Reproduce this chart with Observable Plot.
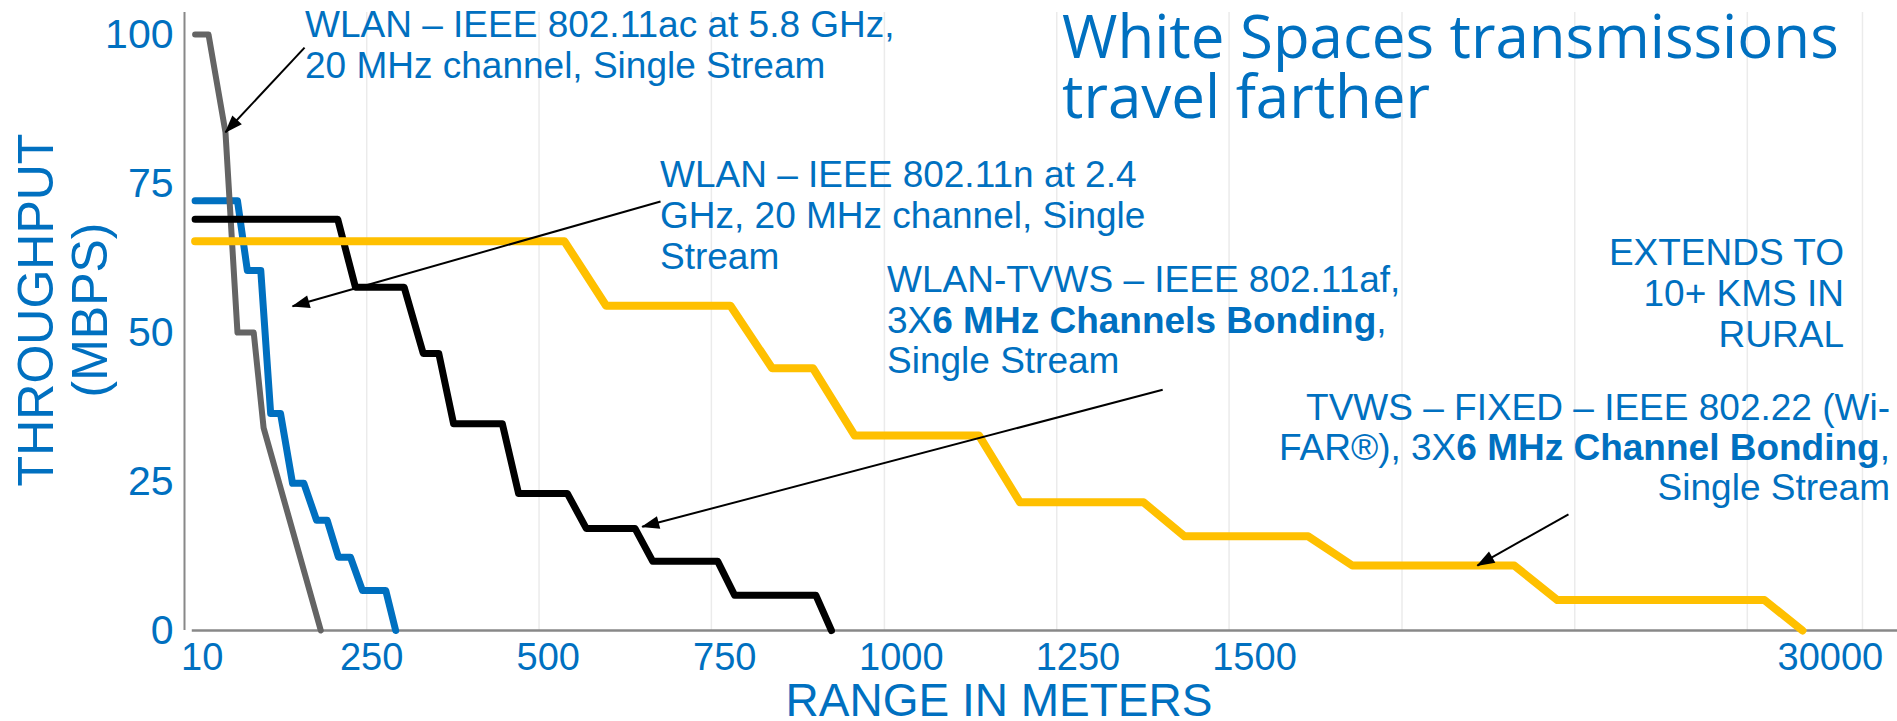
<!DOCTYPE html>
<html><head><meta charset="utf-8">
<script src="https://cdn.jsdelivr.net/npm/d3@7"></script>
<script src="https://cdn.jsdelivr.net/npm/@observablehq/plot@0.6"></script>
<style>
html,body{margin:0;padding:0;background:#fff;}
#chart{width:1897px;height:721px;overflow:hidden;position:relative;}
</style>
</head><body><div id="chart"></div>
<script>
// ---- data (range in meters, throughput in Mbps) ----
const ac58Range = [0, 19, 43, 60, 83, 97, 178];
const ac58Thr   = [100, 100, 83.6, 50, 50, 34, 0];

const n24Range = [0, 60, 74, 93, 107, 121, 138, 154, 172, 187, 203, 220, 237, 270, 284];
const n24Thr   = [72.1, 72.1, 60.4, 60.4, 36.4, 36.4, 24.7, 24.7, 18.5, 18.5, 12.3, 12.3, 6.7, 6.7, 0];

const afRange = [0, 202, 227, 296, 323, 345, 366, 435, 458, 527, 554, 623, 648, 740, 764, 879, 901];
const afThr   = [69, 69, 57.6, 57.6, 46.5, 46.5, 34.7, 34.7, 23, 23, 17.1, 17.1, 11.6, 11.6, 5.9, 5.9, 0];

const wranRange = [0, 523, 582, 758, 817, 875, 934, 1110, 1168, 1343, 1401, 4160, 6340, 14360, 16490, 26740, 28620];
const wranThr   = [65.3, 65.3, 54.5, 54.5, 44, 44, 32.7, 32.7, 21.5, 21.5, 15.8, 15.8, 10.9, 10.9, 5.1, 5.1, 0];

const xTicks = [10, 250, 500, 750, 1000, 1250, 1500, 30000];
const yTicks = [0, 25, 50, 75, 100];
const gridMeters = [243, 487, 731, 976, 1220, 1464, 8800, 17350, 25890, 31590];

// annotation arrows (tail -> head), in data units
const arrowFromX = [155, 659, 1370, 17040];
const arrowFromY = [97.8, 72, 40.4, 19.5];
const arrowToX   = [43, 138, 633, 12530];
const arrowToY   = [83.6, 54.4, 17.4, 10.9];

const BLUE = "#0070c0";
const toRows = (xs, ys) => xs.map((x, i) => ({x, y: ys[i]}));
const arrows = arrowFromX.map((x1, i) => ({x1, y1: arrowFromY[i], x2: arrowToX[i], y2: arrowToY[i]}));

const lineOpts = {x: "x", y: "y", strokeLinejoin: "round", strokeLinecap: "round"};

const chart = Plot.plot({
  width: 1897, height: 721,
  marginLeft: 184, marginRight: 0, marginTop: 12, marginBottom: 91,
  style: {fontFamily: "'Liberation Sans', Arial, sans-serif", fontSize: "39px", color: BLUE, background: "#fff", overflow: "visible"},
  x: {type: "linear", domain: [-15, 1500, 33323], range: [184, 1254, 1897],
      ticks: xTicks, tickFormat: d => String(d), tickSize: 0, tickPadding: 13, label: null},
  y: {domain: [0, 103.7], ticks: yTicks, tickSize: 0, tickPadding: 11, label: null},
  marks: [
    Plot.ruleX(gridMeters, {y1: 0, y2: 103.7, stroke: "#ebebeb", strokeWidth: 1.5}),
    Plot.ruleX([-15], {y1: 0, y2: 103.7, stroke: "#888", strokeWidth: 2}),
    Plot.ruleY([0], {x1: -4, x2: 33323, stroke: "#888", strokeWidth: 2.5}),
    Plot.line(toRows(n24Range, n24Thr), {...lineOpts, stroke: "#0070c0", strokeWidth: 7}),
    Plot.line(toRows(ac58Range, ac58Thr), {...lineOpts, stroke: "#646464", strokeWidth: 6}),
    Plot.line(toRows(afRange, afThr), {...lineOpts, stroke: "#000", strokeWidth: 7}),
    Plot.line(toRows(wranRange, wranThr), {...lineOpts, stroke: "#ffc000", strokeWidth: 8}),
    Plot.link(arrows, {x1: "x1", y1: "y1", x2: "x2", y2: "y2", stroke: "#000", strokeWidth: 2})
  ]
});
document.getElementById("chart").appendChild(chart);

const svg = d3.select(chart.tagName.toLowerCase() === "svg" ? chart : chart.querySelector("svg"));
// tick label sizes
svg.selectAll('g[aria-label^="y-axis"]').attr("font-size", 41);
svg.selectAll('g[aria-label^="x-axis"]').attr("font-size", 38);

// ---- arrowheads (filled) ----
svg.append("defs").append("marker")
  .attr("id", "ah").attr("markerUnits", "userSpaceOnUse")
  .attr("viewBox", "-18 -8 20 16").attr("markerWidth", 20).attr("markerHeight", 16)
  .attr("refX", 0).attr("refY", 0).attr("orient", "auto")
  .append("path").attr("d", "M1,0L-17,-6.5L-17,6.5Z").attr("fill", "#000");
svg.selectAll('g[aria-label="link"] path').attr("marker-end", "url(#ah)");

// ---- text annotations ----
const SANS = "'Liberation Sans', Arial, sans-serif";
function addText({x, y, anchor = "start", size = 37, family = SANS, lh = 41, lines, rotate = 0}) {
  const t = svg.append("text")
    .attr("fill", BLUE).attr("font-family", family).attr("font-size", size)
    .attr("text-anchor", anchor);
  if (rotate) t.attr("transform", `translate(${x},${y}) rotate(${rotate})`);
  lines.forEach((segs, i) => {
    segs = Array.isArray(segs) ? segs : [[segs, false]];
    segs.forEach(([s, bold], j) => {
      const ts = t.append("tspan").text(s);
      if (j === 0) ts.attr("x", rotate ? 0 : x).attr("y", rotate ? i * lh : y + i * lh);
      if (bold) ts.attr("font-weight", "bold");
    });
  });
}

addText({x: 305, y: 37, lines: ["WLAN – IEEE 802.11ac at 5.8 GHz,", "20 MHz channel, Single Stream"]});
addText({x: 660, y: 187, lines: ["WLAN – IEEE 802.11n at 2.4", "GHz, 20 MHz channel, Single", "Stream"]});
addText({x: 887, y: 292, lh: 40.5, lines: [
  "WLAN-TVWS – IEEE 802.11af,",
  [["3X", false], ["6 MHz Channels Bonding", true], [",", false]],
  "Single Stream"]});
addText({x: 1890, y: 420, anchor: "end", lh: 40, lines: [
  "TVWS – FIXED – IEEE 802.22 (Wi-",
  [["FAR®), 3X", false], ["6 MHz Channel Bonding", true], [",", false]],
  "Single Stream"]});
addText({x: 1844, y: 265, anchor: "end", lh: 41, lines: ["EXTENDS TO", "10+ KMS IN", "RURAL"]});
addText({x: 1062, y: 58, size: 60, lh: 60, family: "'Open Sans', 'Noto Sans', sans-serif",
  lines: ["White Spaces transmissions", "travel farther"]});
addText({x: 999, y: 716, anchor: "middle", size: 46, lines: ["RANGE IN METERS"]});
addText({x: 53, y: 310, anchor: "middle", size: 50, lh: 54, rotate: -90, lines: ["THROUGHPUT", "(MBPS)"]});
</script></body></html>
